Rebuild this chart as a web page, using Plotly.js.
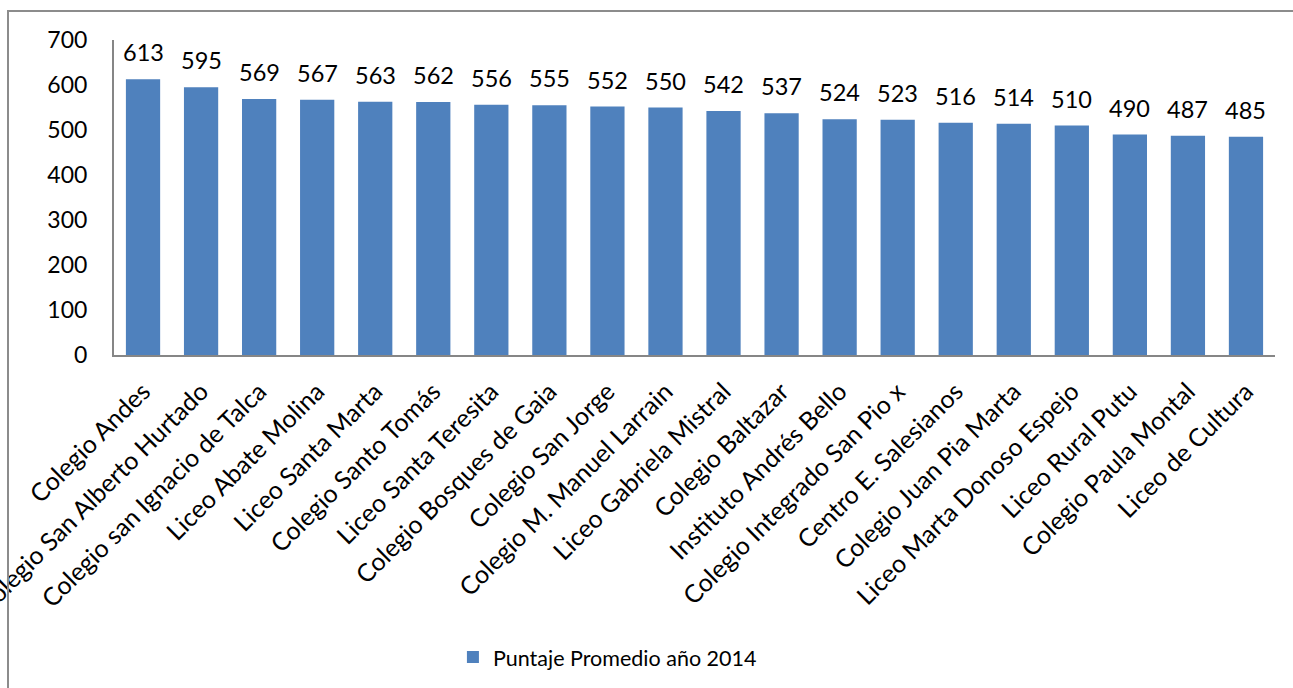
<!DOCTYPE html>
<html>
<head>
<meta charset="utf-8">
<script src="https://cdn.plot.ly/plotly-3.0.1.min.js"></script>
<style>
html,body{margin:0;padding:0;background:#fff;overflow:hidden;}
#wrap{position:relative;width:1293px;height:688px;}
#chart{width:1293px;height:688px;}
#frame{position:absolute;left:7px;top:10px;width:1300px;height:700px;border-top:2px solid #8c8c8c;border-left:2px solid #8c8c8c;pointer-events:none;box-sizing:border-box;}
</style>
</head>
<body>
<div id="wrap"><div id="chart"></div><div id="frame"></div></div>
<script>
const categories = [
  "Colegio Andes", "Colegio San Alberto Hurtado", "Colegio san Ignacio de Talca",
  "Liceo Abate Molina", "Liceo Santa Marta", "Colegio Santo Tomás",
  "Liceo Santa Teresita", "Colegio Bosques de Gaia", "Colegio San Jorge",
  "Colegio M. Manuel Larrain", "Liceo Gabriela Mistral", "Colegio Baltazar",
  "Instituto Andrés Bello", "Colegio Integrado San Pio x", "Centro E. Salesianos",
  "Colegio Juan Pia Marta", "Liceo Marta Donoso Espejo", "Liceo Rural Putu",
  "Colegio Paula Montal", "Liceo de Cultura"
];
const puntaje2014 = [613, 595, 569, 567, 563, 562, 556, 555, 552, 550, 542, 537, 524, 523, 516, 514, 510, 490, 487, 485];
const yTicks = [0, 100, 200, 300, 400, 500, 600, 700];
const seriesName = "Puntaje Promedio año 2014";

const FONT = "Lato, 'Open Sans', sans-serif";

const trace = {
  type: "bar",
  x: categories,
  y: puntaje2014,
  name: seriesName,
  marker: {color: "#4F81BD"},
  hoverinfo: "x+y"
};

const annotations = categories.map((c, i) => ({
  x: c, y: puntaje2014[i], text: String(puntaje2014[i]),
  xref: "x", yref: "y", showarrow: false, yanchor: "bottom", yshift: 11,
  font: {family: FONT, size: 23.5, color: "#000"}
}));

const layout = {
  width: 1293, height: 688,
  margin: {l: 114, r: 18, t: 40, b: 332},
  paper_bgcolor: "#fff", plot_bgcolor: "#fff",
  bargap: 0.41,
  showlegend: true,
  legend: {
    orientation: "h", x: 0.425, xanchor: "center", y: -0.953, yanchor: "middle",
    font: {family: FONT, size: 21.5, color: "#000"}
  },
  xaxis: {
    type: "category",
    tickangle: -45,
    showline: true, linecolor: "#868686", linewidth: 2,
    ticks: "", showgrid: false, zeroline: false,
    ticklabelstandoff: 10,
    tickfont: {family: FONT, size: 25, color: "#000"}
  },
  yaxis: {
    range: [0, 700],
    tickvals: yTicks,
    ticktext: yTicks.map(String),
    showline: true, linecolor: "#868686", linewidth: 2,
    ticks: "", showgrid: false, zeroline: false,
    ticklabelstandoff: 20,
    tickfont: {family: FONT, size: 23, color: "#000"}
  },
  annotations: annotations
};

Plotly.newPlot("chart", [trace], layout, {displayModeBar: false, staticPlot: true});
</script>
</body>
</html>
